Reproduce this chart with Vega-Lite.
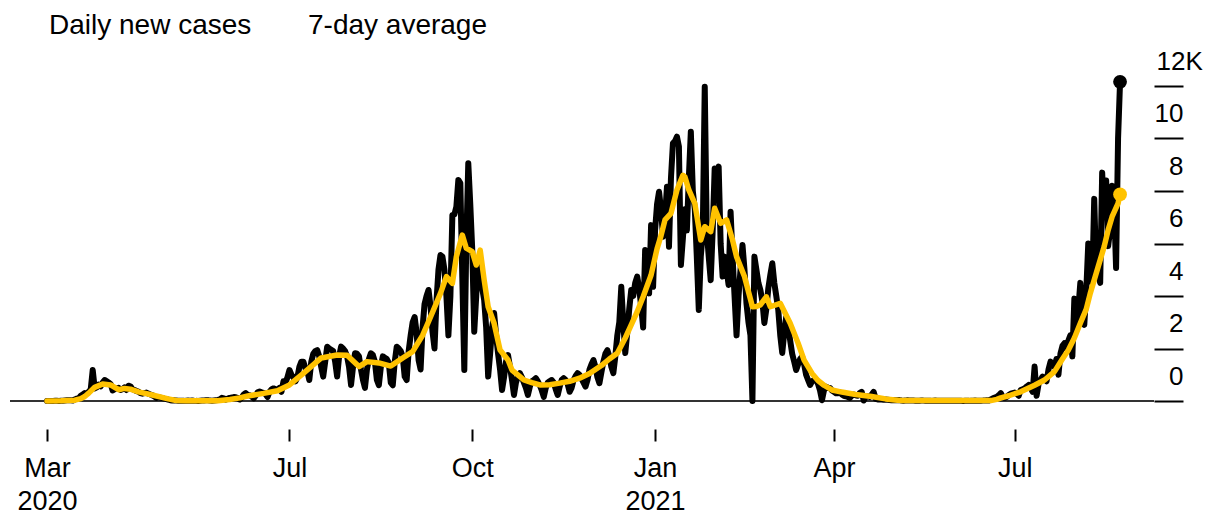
{
"$schema":"https://vega.github.io/schema/vega-lite/v6.json",
"width":1144,"height":315,
"autosize":{"type":"none"},
"padding":{"left":10,"top":86,"right":52,"bottom":113},
"background":"#ffffff",
"config":{"view":{"stroke":null},"font":"Liberation Sans"},
"datasets":{
"daily":[
{"date":"2020-03-01","cases":2},{"date":"2020-03-02","cases":3},{"date":"2020-03-03","cases":2},{"date":"2020-03-04","cases":4},{"date":"2020-03-05","cases":5},{"date":"2020-03-06","cases":6},{"date":"2020-03-07","cases":3},{"date":"2020-03-08","cases":8},{"date":"2020-03-09","cases":12},{"date":"2020-03-10","cases":20},{"date":"2020-03-11","cases":25},{"date":"2020-03-12","cases":30},{"date":"2020-03-13","cases":28},{"date":"2020-03-14","cases":20},{"date":"2020-03-15","cases":60},{"date":"2020-03-16","cases":90},{"date":"2020-03-17","cases":110},{"date":"2020-03-18","cases":200},{"date":"2020-03-19","cases":250},{"date":"2020-03-20","cases":300},{"date":"2020-03-21","cases":280},{"date":"2020-03-22","cases":350},{"date":"2020-03-23","cases":450},{"date":"2020-03-24","cases":1180},{"date":"2020-03-25","cases":480},{"date":"2020-03-26","cases":520},{"date":"2020-03-27","cases":620},{"date":"2020-03-28","cases":560},{"date":"2020-03-29","cases":700},{"date":"2020-03-30","cases":800},{"date":"2020-03-31","cases":760},
{"date":"2020-04-01","cases":700},{"date":"2020-04-02","cases":650},{"date":"2020-04-03","cases":400},{"date":"2020-04-04","cases":450},{"date":"2020-04-05","cases":480},{"date":"2020-04-06","cases":500},{"date":"2020-04-07","cases":420},{"date":"2020-04-08","cases":450},{"date":"2020-04-09","cases":520},{"date":"2020-04-10","cases":420},{"date":"2020-04-11","cases":580},{"date":"2020-04-12","cases":560},{"date":"2020-04-13","cases":450},{"date":"2020-04-14","cases":420},{"date":"2020-04-15","cases":380},{"date":"2020-04-16","cases":360},{"date":"2020-04-17","cases":300},{"date":"2020-04-18","cases":280},{"date":"2020-04-19","cases":300},{"date":"2020-04-20","cases":320},{"date":"2020-04-21","cases":280},{"date":"2020-04-22","cases":250},{"date":"2020-04-23","cases":220},{"date":"2020-04-24","cases":180},{"date":"2020-04-25","cases":120},{"date":"2020-04-26","cases":150},{"date":"2020-04-27","cases":130},{"date":"2020-04-28","cases":110},{"date":"2020-04-29","cases":90},{"date":"2020-04-30","cases":80},
{"date":"2020-05-01","cases":50},{"date":"2020-05-02","cases":30},{"date":"2020-05-03","cases":20},{"date":"2020-05-04","cases":30},{"date":"2020-05-05","cases":15},{"date":"2020-05-06","cases":10},{"date":"2020-05-07","cases":12},{"date":"2020-05-08","cases":8},{"date":"2020-05-09","cases":5},{"date":"2020-05-10","cases":10},{"date":"2020-05-11","cases":15},{"date":"2020-05-12","cases":12},{"date":"2020-05-13","cases":20},{"date":"2020-05-14","cases":10},{"date":"2020-05-15","cases":5},{"date":"2020-05-16","cases":3},{"date":"2020-05-17","cases":10},{"date":"2020-05-18","cases":15},{"date":"2020-05-19","cases":20},{"date":"2020-05-20","cases":25},{"date":"2020-05-21","cases":30},{"date":"2020-05-22","cases":15},{"date":"2020-05-23","cases":10},{"date":"2020-05-24","cases":20},{"date":"2020-05-25","cases":30},{"date":"2020-05-26","cases":40},{"date":"2020-05-27","cases":60},{"date":"2020-05-28","cases":120},{"date":"2020-05-29","cases":100},{"date":"2020-05-30","cases":50},{"date":"2020-05-31","cases":90},
{"date":"2020-06-01","cases":120},{"date":"2020-06-02","cases":130},{"date":"2020-06-03","cases":150},{"date":"2020-06-04","cases":140},{"date":"2020-06-05","cases":110},{"date":"2020-06-06","cases":60},{"date":"2020-06-07","cases":130},{"date":"2020-06-08","cases":250},{"date":"2020-06-09","cases":300},{"date":"2020-06-10","cases":230},{"date":"2020-06-11","cases":220},{"date":"2020-06-12","cases":170},{"date":"2020-06-13","cases":100},{"date":"2020-06-14","cases":200},{"date":"2020-06-15","cases":330},{"date":"2020-06-16","cases":360},{"date":"2020-06-17","cases":330},{"date":"2020-06-18","cases":310},{"date":"2020-06-19","cases":260},{"date":"2020-06-20","cases":150},{"date":"2020-06-21","cases":350},{"date":"2020-06-22","cases":450},{"date":"2020-06-23","cases":480},{"date":"2020-06-24","cases":450},{"date":"2020-06-25","cases":420},{"date":"2020-06-26","cases":500},{"date":"2020-06-27","cases":350},{"date":"2020-06-28","cases":750},{"date":"2020-06-29","cases":700},{"date":"2020-06-30","cases":900},
{"date":"2020-07-01","cases":1180},{"date":"2020-07-02","cases":1000},{"date":"2020-07-03","cases":900},{"date":"2020-07-04","cases":750},{"date":"2020-07-05","cases":900},{"date":"2020-07-06","cases":1300},{"date":"2020-07-07","cases":1500},{"date":"2020-07-08","cases":1500},{"date":"2020-07-09","cases":1250},{"date":"2020-07-10","cases":1150},{"date":"2020-07-11","cases":800},{"date":"2020-07-12","cases":1500},{"date":"2020-07-13","cases":1800},{"date":"2020-07-14","cases":1900},{"date":"2020-07-15","cases":1940},{"date":"2020-07-16","cases":1700},{"date":"2020-07-17","cases":1300},{"date":"2020-07-18","cases":930},{"date":"2020-07-19","cases":1500},{"date":"2020-07-20","cases":2070},{"date":"2020-07-21","cases":2000},{"date":"2020-07-22","cases":1950},{"date":"2020-07-23","cases":1900},{"date":"2020-07-24","cases":1500},{"date":"2020-07-25","cases":930},{"date":"2020-07-26","cases":1700},{"date":"2020-07-27","cases":2070},{"date":"2020-07-28","cases":2000},{"date":"2020-07-29","cases":1900},{"date":"2020-07-30","cases":1700},{"date":"2020-07-31","cases":1300},
{"date":"2020-08-01","cases":610},{"date":"2020-08-02","cases":1300},{"date":"2020-08-03","cases":1820},{"date":"2020-08-04","cases":1800},{"date":"2020-08-05","cases":1700},{"date":"2020-08-06","cases":1200},{"date":"2020-08-07","cases":800},{"date":"2020-08-08","cases":500},{"date":"2020-08-09","cases":1200},{"date":"2020-08-10","cases":1600},{"date":"2020-08-11","cases":1820},{"date":"2020-08-12","cases":1750},{"date":"2020-08-13","cases":1500},{"date":"2020-08-14","cases":800},{"date":"2020-08-15","cases":600},{"date":"2020-08-16","cases":1300},{"date":"2020-08-17","cases":1700},{"date":"2020-08-18","cases":1650},{"date":"2020-08-19","cases":1600},{"date":"2020-08-20","cases":1450},{"date":"2020-08-21","cases":700},{"date":"2020-08-22","cases":600},{"date":"2020-08-23","cases":1500},{"date":"2020-08-24","cases":2070},{"date":"2020-08-25","cases":2000},{"date":"2020-08-26","cases":1900},{"date":"2020-08-27","cases":1700},{"date":"2020-08-28","cases":930},{"date":"2020-08-29","cases":800},{"date":"2020-08-30","cases":1900},{"date":"2020-08-31","cases":2500},
{"date":"2020-09-01","cases":3000},{"date":"2020-09-02","cases":3200},{"date":"2020-09-03","cases":2600},{"date":"2020-09-04","cases":1560},{"date":"2020-09-05","cases":1200},{"date":"2020-09-06","cases":2800},{"date":"2020-09-07","cases":3700},{"date":"2020-09-08","cases":4000},{"date":"2020-09-09","cases":4230},{"date":"2020-09-10","cases":3600},{"date":"2020-09-11","cases":2640},{"date":"2020-09-12","cases":2000},{"date":"2020-09-13","cases":3800},{"date":"2020-09-14","cases":5000},{"date":"2020-09-15","cases":5560},{"date":"2020-09-16","cases":5500},{"date":"2020-09-17","cases":5000},{"date":"2020-09-18","cases":4000},{"date":"2020-09-19","cases":2500},{"date":"2020-09-20","cases":4000},{"date":"2020-09-21","cases":7090},{"date":"2020-09-22","cases":7100},{"date":"2020-09-23","cases":7400},{"date":"2020-09-24","cases":8420},{"date":"2020-09-25","cases":8300},{"date":"2020-09-26","cases":4700},{"date":"2020-09-27","cases":1180},{"date":"2020-09-28","cases":6000},{"date":"2020-09-29","cases":9060},{"date":"2020-09-30","cases":7500},
{"date":"2020-10-01","cases":5750},{"date":"2020-10-02","cases":2640},{"date":"2020-10-03","cases":4000},{"date":"2020-10-04","cases":5370},{"date":"2020-10-05","cases":4800},{"date":"2020-10-06","cases":4300},{"date":"2020-10-07","cases":3850},{"date":"2020-10-08","cases":2800},{"date":"2020-10-09","cases":930},{"date":"2020-10-10","cases":1800},{"date":"2020-10-11","cases":2800},{"date":"2020-10-12","cases":3350},{"date":"2020-10-13","cases":2500},{"date":"2020-10-14","cases":1800},{"date":"2020-10-15","cases":1200},{"date":"2020-10-16","cases":420},{"date":"2020-10-17","cases":900},{"date":"2020-10-18","cases":1500},{"date":"2020-10-19","cases":1750},{"date":"2020-10-20","cases":1300},{"date":"2020-10-21","cases":800},{"date":"2020-10-22","cases":230},{"date":"2020-10-23","cases":700},{"date":"2020-10-24","cases":950},{"date":"2020-10-25","cases":1060},{"date":"2020-10-26","cases":900},{"date":"2020-10-27","cases":700},{"date":"2020-10-28","cases":500},{"date":"2020-10-29","cases":230},{"date":"2020-10-30","cases":550},{"date":"2020-10-31","cases":750},
{"date":"2020-11-01","cases":800},{"date":"2020-11-02","cases":870},{"date":"2020-11-03","cases":750},{"date":"2020-11-04","cases":600},{"date":"2020-11-05","cases":400},{"date":"2020-11-06","cases":160},{"date":"2020-11-07","cases":500},{"date":"2020-11-08","cases":700},{"date":"2020-11-09","cases":760},{"date":"2020-11-10","cases":800},{"date":"2020-11-11","cases":700},{"date":"2020-11-12","cases":450},{"date":"2020-11-13","cases":230},{"date":"2020-11-14","cases":550},{"date":"2020-11-15","cases":800},{"date":"2020-11-16","cases":870},{"date":"2020-11-17","cases":800},{"date":"2020-11-18","cases":650},{"date":"2020-11-19","cases":350},{"date":"2020-11-20","cases":500},{"date":"2020-11-21","cases":800},{"date":"2020-11-22","cases":950},{"date":"2020-11-23","cases":1060},{"date":"2020-11-24","cases":1000},{"date":"2020-11-25","cases":850},{"date":"2020-11-26","cases":700},{"date":"2020-11-27","cases":550},{"date":"2020-11-28","cases":800},{"date":"2020-11-29","cases":1200},{"date":"2020-11-30","cases":1400},
{"date":"2020-12-01","cases":1560},{"date":"2020-12-02","cases":1300},{"date":"2020-12-03","cases":900},{"date":"2020-12-04","cases":680},{"date":"2020-12-05","cases":1100},{"date":"2020-12-06","cases":1500},{"date":"2020-12-07","cases":1800},{"date":"2020-12-08","cases":1940},{"date":"2020-12-09","cases":1700},{"date":"2020-12-10","cases":1300},{"date":"2020-12-11","cases":1060},{"date":"2020-12-12","cases":1700},{"date":"2020-12-13","cases":2500},{"date":"2020-12-14","cases":3000},{"date":"2020-12-15","cases":4350},{"date":"2020-12-16","cases":3000},{"date":"2020-12-17","cases":1830},{"date":"2020-12-18","cases":2600},{"date":"2020-12-19","cases":3500},{"date":"2020-12-20","cases":4230},{"date":"2020-12-21","cases":4000},{"date":"2020-12-22","cases":4500},{"date":"2020-12-23","cases":4740},{"date":"2020-12-24","cases":4300},{"date":"2020-12-25","cases":3600},{"date":"2020-12-26","cases":2800},{"date":"2020-12-27","cases":5750},{"date":"2020-12-28","cases":5500},{"date":"2020-12-29","cases":4100},{"date":"2020-12-30","cases":6700},{"date":"2020-12-31","cases":4350},
{"date":"2021-01-01","cases":6500},{"date":"2021-01-02","cases":7500},{"date":"2021-01-03","cases":7970},{"date":"2021-01-04","cases":7300},{"date":"2021-01-05","cases":6260},{"date":"2021-01-06","cases":7000},{"date":"2021-01-07","cases":8160},{"date":"2021-01-08","cases":5880},{"date":"2021-01-09","cases":8500},{"date":"2021-01-10","cases":9820},{"date":"2021-01-11","cases":9900},{"date":"2021-01-12","cases":10070},{"date":"2021-01-13","cases":9690},{"date":"2021-01-14","cases":5180},{"date":"2021-01-15","cases":6200},{"date":"2021-01-16","cases":7300},{"date":"2021-01-17","cases":6500},{"date":"2021-01-18","cases":8500},{"date":"2021-01-19","cases":10260},{"date":"2021-01-20","cases":8000},{"date":"2021-01-21","cases":7300},{"date":"2021-01-22","cases":5500},{"date":"2021-01-23","cases":3470},{"date":"2021-01-24","cases":5500},{"date":"2021-01-25","cases":6400},{"date":"2021-01-26","cases":11970},{"date":"2021-01-27","cases":6500},{"date":"2021-01-28","cases":5500},{"date":"2021-01-29","cases":4600},{"date":"2021-01-30","cases":6500},{"date":"2021-01-31","cases":8860},
{"date":"2021-02-01","cases":8600},{"date":"2021-02-02","cases":8930},{"date":"2021-02-03","cases":6000},{"date":"2021-02-04","cases":4740},{"date":"2021-02-05","cases":5500},{"date":"2021-02-06","cases":5000},{"date":"2021-02-07","cases":4420},{"date":"2021-02-08","cases":7210},{"date":"2021-02-09","cases":5500},{"date":"2021-02-10","cases":4000},{"date":"2021-02-11","cases":2500},{"date":"2021-02-12","cases":4000},{"date":"2021-02-13","cases":5000},{"date":"2021-02-14","cases":5940},{"date":"2021-02-15","cases":5000},{"date":"2021-02-16","cases":3720},{"date":"2021-02-17","cases":3000},{"date":"2021-02-18","cases":2500},{"date":"2021-02-19","cases":0},{"date":"2021-02-20","cases":5500},{"date":"2021-02-21","cases":5000},{"date":"2021-02-22","cases":4500},{"date":"2021-02-23","cases":4230},{"date":"2021-02-24","cases":3800},{"date":"2021-02-25","cases":2970},{"date":"2021-02-26","cases":3500},{"date":"2021-02-27","cases":4300},{"date":"2021-02-28","cases":4800},
{"date":"2021-03-01","cases":5250},{"date":"2021-03-02","cases":4500},{"date":"2021-03-03","cases":4000},{"date":"2021-03-04","cases":3470},{"date":"2021-03-05","cases":2500},{"date":"2021-03-06","cases":1830},{"date":"2021-03-07","cases":2600},{"date":"2021-03-08","cases":3200},{"date":"2021-03-09","cases":2800},{"date":"2021-03-10","cases":2300},{"date":"2021-03-11","cases":1800},{"date":"2021-03-12","cases":1500},{"date":"2021-03-13","cases":1180},{"date":"2021-03-14","cases":1400},{"date":"2021-03-15","cases":1600},{"date":"2021-03-16","cases":1690},{"date":"2021-03-17","cases":1400},{"date":"2021-03-18","cases":1000},{"date":"2021-03-19","cases":800},{"date":"2021-03-20","cases":610},{"date":"2021-03-21","cases":750},{"date":"2021-03-22","cases":800},{"date":"2021-03-23","cases":800},{"date":"2021-03-24","cases":650},{"date":"2021-03-25","cases":400},{"date":"2021-03-26","cases":30},{"date":"2021-03-27","cases":400},{"date":"2021-03-28","cases":550},{"date":"2021-03-29","cases":500},{"date":"2021-03-30","cases":500},{"date":"2021-03-31","cases":400},
{"date":"2021-04-01","cases":350},{"date":"2021-04-02","cases":300},{"date":"2021-04-03","cases":300},{"date":"2021-04-04","cases":330},{"date":"2021-04-05","cases":250},{"date":"2021-04-06","cases":200},{"date":"2021-04-07","cases":180},{"date":"2021-04-08","cases":150},{"date":"2021-04-09","cases":120},{"date":"2021-04-10","cases":200},{"date":"2021-04-11","cases":250},{"date":"2021-04-12","cases":220},{"date":"2021-04-13","cases":200},{"date":"2021-04-14","cases":300},{"date":"2021-04-15","cases":350},{"date":"2021-04-16","cases":20},{"date":"2021-04-17","cases":150},{"date":"2021-04-18","cases":180},{"date":"2021-04-19","cases":150},{"date":"2021-04-20","cases":250},{"date":"2021-04-21","cases":350},{"date":"2021-04-22","cases":80},{"date":"2021-04-23","cases":60},{"date":"2021-04-24","cases":70},{"date":"2021-04-25","cases":60},{"date":"2021-04-26","cases":50},{"date":"2021-04-27","cases":60},{"date":"2021-04-28","cases":50},{"date":"2021-04-29","cases":40},{"date":"2021-04-30","cases":30},
{"date":"2021-05-01","cases":40},{"date":"2021-05-02","cases":30},{"date":"2021-05-03","cases":25},{"date":"2021-05-04","cases":35},{"date":"2021-05-05","cases":20},{"date":"2021-05-06","cases":10},{"date":"2021-05-07","cases":15},{"date":"2021-05-08","cases":25},{"date":"2021-05-09","cases":20},{"date":"2021-05-10","cases":18},{"date":"2021-05-11","cases":15},{"date":"2021-05-12","cases":10},{"date":"2021-05-13","cases":8},{"date":"2021-05-14","cases":12},{"date":"2021-05-15","cases":20},{"date":"2021-05-16","cases":15},{"date":"2021-05-17","cases":12},{"date":"2021-05-18","cases":10},{"date":"2021-05-19","cases":8},{"date":"2021-05-20","cases":5},{"date":"2021-05-21","cases":10},{"date":"2021-05-22","cases":15},{"date":"2021-05-23","cases":12},{"date":"2021-05-24","cases":10},{"date":"2021-05-25","cases":10},{"date":"2021-05-26","cases":8},{"date":"2021-05-27","cases":5},{"date":"2021-05-28","cases":8},{"date":"2021-05-29","cases":12},{"date":"2021-05-30","cases":10},{"date":"2021-05-31","cases":8},
{"date":"2021-06-01","cases":10},{"date":"2021-06-02","cases":8},{"date":"2021-06-03","cases":5},{"date":"2021-06-04","cases":6},{"date":"2021-06-05","cases":4},{"date":"2021-06-06","cases":10},{"date":"2021-06-07","cases":8},{"date":"2021-06-08","cases":5},{"date":"2021-06-09","cases":10},{"date":"2021-06-10","cases":12},{"date":"2021-06-11","cases":15},{"date":"2021-06-12","cases":10},{"date":"2021-06-13","cases":8},{"date":"2021-06-14","cases":12},{"date":"2021-06-15","cases":15},{"date":"2021-06-16","cases":20},{"date":"2021-06-17","cases":25},{"date":"2021-06-18","cases":20},{"date":"2021-06-19","cases":60},{"date":"2021-06-20","cases":100},{"date":"2021-06-21","cases":130},{"date":"2021-06-22","cases":160},{"date":"2021-06-23","cases":220},{"date":"2021-06-24","cases":300},{"date":"2021-06-25","cases":150},{"date":"2021-06-26","cases":120},{"date":"2021-06-27","cases":160},{"date":"2021-06-28","cases":230},{"date":"2021-06-29","cases":280},{"date":"2021-06-30","cases":300},
{"date":"2021-07-01","cases":320},{"date":"2021-07-02","cases":280},{"date":"2021-07-03","cases":200},{"date":"2021-07-04","cases":420},{"date":"2021-07-05","cases":450},{"date":"2021-07-06","cases":480},{"date":"2021-07-07","cases":550},{"date":"2021-07-08","cases":610},{"date":"2021-07-09","cases":500},{"date":"2021-07-10","cases":350},{"date":"2021-07-11","cases":1310},{"date":"2021-07-12","cases":200},{"date":"2021-07-13","cases":650},{"date":"2021-07-14","cases":800},{"date":"2021-07-15","cases":930},{"date":"2021-07-16","cases":850},{"date":"2021-07-17","cases":750},{"date":"2021-07-18","cases":1200},{"date":"2021-07-19","cases":1500},{"date":"2021-07-20","cases":1400},{"date":"2021-07-21","cases":1300},{"date":"2021-07-22","cases":1600},{"date":"2021-07-23","cases":1000},{"date":"2021-07-24","cases":1800},{"date":"2021-07-25","cases":2100},{"date":"2021-07-26","cases":2200},{"date":"2021-07-27","cases":2000},{"date":"2021-07-28","cases":2300},{"date":"2021-07-29","cases":2500},{"date":"2021-07-30","cases":1700},{"date":"2021-07-31","cases":3900},
{"date":"2021-08-01","cases":2700},{"date":"2021-08-02","cases":3500},{"date":"2021-08-03","cases":4500},{"date":"2021-08-04","cases":3200},{"date":"2021-08-05","cases":2900},{"date":"2021-08-06","cases":4200},{"date":"2021-08-07","cases":6000},{"date":"2021-08-08","cases":5000},{"date":"2021-08-09","cases":4500},{"date":"2021-08-10","cases":7700},{"date":"2021-08-11","cases":5000},{"date":"2021-08-12","cases":4800},{"date":"2021-08-13","cases":4500},{"date":"2021-08-14","cases":8700},{"date":"2021-08-15","cases":7000},{"date":"2021-08-16","cases":8400},{"date":"2021-08-17","cases":5900},{"date":"2021-08-18","cases":6500},{"date":"2021-08-19","cases":8200},{"date":"2021-08-20","cases":7500},{"date":"2021-08-21","cases":5070},{"date":"2021-08-22","cases":10000},{"date":"2021-08-23","cases":12160}
],
"average":[
{"date":"2020-03-01","avg":2},{"date":"2020-03-08","avg":5},{"date":"2020-03-15","avg":30},{"date":"2020-03-18","avg":90},{"date":"2020-03-20","avg":170},{"date":"2020-03-22","avg":300},{"date":"2020-03-25","avg":520},{"date":"2020-03-29","avg":650},{"date":"2020-04-02","avg":610},{"date":"2020-04-06","avg":430},{"date":"2020-04-09","avg":480},{"date":"2020-04-12","avg":450},{"date":"2020-04-16","avg":350},{"date":"2020-04-23","avg":230},{"date":"2020-05-01","avg":80},{"date":"2020-05-05","avg":20},{"date":"2020-05-10","avg":10},{"date":"2020-05-26","avg":10},{"date":"2020-06-01","avg":60},{"date":"2020-06-06","avg":120},{"date":"2020-06-10","avg":190},{"date":"2020-06-18","avg":290},{"date":"2020-06-25","avg":390},{"date":"2020-07-01","avg":610},{"date":"2020-07-08","avg":1050},{"date":"2020-07-17","avg":1640},{"date":"2020-07-25","avg":1750},{"date":"2020-07-30","avg":1740},{"date":"2020-08-05","avg":1310},{"date":"2020-08-09","avg":1500},{"date":"2020-08-15","avg":1450},{"date":"2020-08-21","avg":1330},{"date":"2020-08-27","avg":1640},{"date":"2020-09-01","avg":1880},{"date":"2020-09-06","avg":2500},{"date":"2020-09-10","avg":3200},{"date":"2020-09-15","avg":4100},{"date":"2020-09-18","avg":4740},{"date":"2020-09-21","avg":4480},{"date":"2020-09-23","avg":5500},{"date":"2020-09-26","avg":6320},{"date":"2020-09-28","avg":5820},{"date":"2020-10-01","avg":5690},{"date":"2020-10-03","avg":5180},{"date":"2020-10-05","avg":5750},{"date":"2020-10-07","avg":4610},{"date":"2020-10-09","avg":3590},{"date":"2020-10-12","avg":2960},{"date":"2020-10-15","avg":1940},{"date":"2020-10-19","avg":1560},{"date":"2020-10-21","avg":1180},{"date":"2020-10-25","avg":930},{"date":"2020-10-27","avg":800},{"date":"2020-10-31","avg":700},{"date":"2020-11-04","avg":610},{"date":"2020-11-09","avg":620},{"date":"2020-11-14","avg":680},{"date":"2020-11-19","avg":750},{"date":"2020-11-24","avg":870},{"date":"2020-11-29","avg":1050},{"date":"2020-12-05","avg":1350},{"date":"2020-12-09","avg":1600},{"date":"2020-12-13","avg":1820},{"date":"2020-12-17","avg":2400},{"date":"2020-12-20","avg":2900},{"date":"2020-12-23","avg":3400},{"date":"2020-12-26","avg":3970},{"date":"2020-12-30","avg":4800},{"date":"2021-01-02","avg":5800},{"date":"2021-01-04","avg":6300},{"date":"2021-01-06","avg":6900},{"date":"2021-01-09","avg":7150},{"date":"2021-01-12","avg":8040},{"date":"2021-01-15","avg":8600},{"date":"2021-01-16","avg":8540},{"date":"2021-01-18","avg":8040},{"date":"2021-01-21","avg":7530},{"date":"2021-01-24","avg":6130},{"date":"2021-01-26","avg":6640},{"date":"2021-01-29","avg":6450},{"date":"2021-01-31","avg":7340},{"date":"2021-02-03","avg":6770},{"date":"2021-02-06","avg":6900},{"date":"2021-02-09","avg":6130},{"date":"2021-02-11","avg":5500},{"date":"2021-02-15","avg":4740},{"date":"2021-02-19","avg":3590},{"date":"2021-02-21","avg":3600},{"date":"2021-02-23","avg":3660},{"date":"2021-02-26","avg":3970},{"date":"2021-02-28","avg":3590},{"date":"2021-03-05","avg":3720},{"date":"2021-03-10","avg":2960},{"date":"2021-03-14","avg":2200},{"date":"2021-03-17","avg":1560},{"date":"2021-03-21","avg":1050},{"date":"2021-03-24","avg":780},{"date":"2021-03-27","avg":600},{"date":"2021-03-31","avg":420},{"date":"2021-04-05","avg":340},{"date":"2021-04-12","avg":250},{"date":"2021-04-20","avg":170},{"date":"2021-04-27","avg":80},{"date":"2021-05-03","avg":30},{"date":"2021-05-05","avg":15},{"date":"2021-06-19","avg":15},{"date":"2021-06-22","avg":60},{"date":"2021-06-24","avg":120},{"date":"2021-06-28","avg":200},{"date":"2021-07-04","avg":350},{"date":"2021-07-11","avg":600},{"date":"2021-07-16","avg":800},{"date":"2021-07-21","avg":1120},{"date":"2021-07-25","avg":1600},{"date":"2021-07-28","avg":1940},{"date":"2021-07-31","avg":2400},{"date":"2021-08-03","avg":2960},{"date":"2021-08-06","avg":3500},{"date":"2021-08-08","avg":4100},{"date":"2021-08-12","avg":5120},{"date":"2021-08-15","avg":5880},{"date":"2021-08-17","avg":6510},{"date":"2021-08-19","avg":7020},{"date":"2021-08-22","avg":7530},{"date":"2021-08-23","avg":7870}
]
},
"layer":[
{"data":{"values":[{"base":0}]},
 "mark":{"type":"rule","color":"#333333","strokeWidth":2},
 "encoding":{"y":{"field":"base","type":"quantitative"}}},
{"data":{"name":"daily"},
 "mark":{"type":"line","strokeWidth":6,"strokeJoin":"round","strokeCap":"round"},
 "encoding":{
  "x":{"field":"date","type":"temporal",
   "scale":{"type":"utc","domain":[{"year":2020,"month":2,"date":11,"hours":9,"utc":true},{"year":2021,"month":9,"date":9,"hours":2,"utc":true}]},
   "axis":{"values":[{"year":2020,"month":3,"date":1,"utc":true},{"year":2020,"month":7,"date":1,"utc":true},{"year":2020,"month":10,"date":1,"utc":true},{"year":2021,"month":1,"date":1,"utc":true},{"year":2021,"month":4,"date":1,"utc":true},{"year":2021,"month":7,"date":1,"utc":true}],
    "labelExpr":"(utcmonth(datum.value) == 0 || (utcmonth(datum.value) == 2 && utcyear(datum.value) == 2020)) ? [utcFormat(datum.value, '%b'), utcFormat(datum.value, '%Y')] : utcFormat(datum.value, '%b')",
    "domain":false,"grid":false,"offset":28,"tickSize":12,"tickWidth":2,"tickColor":"#000000",
    "labelFont":"Liberation Sans","labelFontSize":27,"labelColor":"#000000","labelLineHeight":33,"labelPadding":14,
    "labelAlign":"center","labelBaseline":"top","labelOverlap":false,"labelFlush":false,"title":null}},
  "y":{"field":"cases","type":"quantitative",
   "scale":{"domain":[0,12000],"nice":false,"zero":true},
   "axis":{"orient":"right","values":[0,2000,4000,6000,8000,10000,12000],
    "labelExpr":"datum.value == 12000 ? '12K' : format(datum.value / 1000, 'd')",
    "domain":false,"grid":false,"tickSize":29,"tickWidth":2,"tickColor":"#000000",
    "labelFont":"Liberation Sans","labelFontSize":26,"labelColor":"#000000",
    "labelAlign":{"condition":{"test":"datum.value == 12000","value":"left"},"value":"right"},
    "labelPadding":{"condition":{"test":"datum.value == 12000","value":-27},"value":0},
    "labelOffset":-25,"labelBaseline":"middle","labelOverlap":false,"labelFlush":false,"title":null}},
  "color":{"datum":"Daily new cases","type":"nominal",
   "scale":{"domain":["Daily new cases","7-day average"],"range":["#000000","#ffc200"]},
   "legend":{"orient":"none","legendX":11,"legendY":-74,"direction":"horizontal","title":null,
    "symbolSize":0,"symbolStrokeWidth":0,"symbolOpacity":0,"labelOffset":0,
    "labelFont":"Liberation Sans","labelFontSize":28,"labelColor":"#000000","columnPadding":28,"labelLimit":400}}}},
{"data":{"name":"average"},
 "mark":{"type":"line","strokeWidth":5.5,"strokeJoin":"round","strokeCap":"round"},
 "encoding":{
  "x":{"field":"date","type":"temporal"},
  "y":{"field":"avg","type":"quantitative"},
  "color":{"datum":"7-day average","type":"nominal"}}},
{"data":{"name":"daily"},
 "transform":[{"filter":"utcyear(datum.date) == 2021 && utcmonth(datum.date) == 7 && utcdate(datum.date) == 23"}],
 "mark":{"type":"point","filled":true,"size":190,"color":"#000000","opacity":1},
 "encoding":{"x":{"field":"date","type":"temporal"},"y":{"field":"cases","type":"quantitative"}}},
{"data":{"name":"average"},
 "transform":[{"filter":"utcyear(datum.date) == 2021 && utcmonth(datum.date) == 7 && utcdate(datum.date) == 23"}],
 "mark":{"type":"point","filled":true,"size":190,"color":"#ffc200","opacity":1},
 "encoding":{"x":{"field":"date","type":"temporal"},"y":{"field":"avg","type":"quantitative"}}}
]
}
